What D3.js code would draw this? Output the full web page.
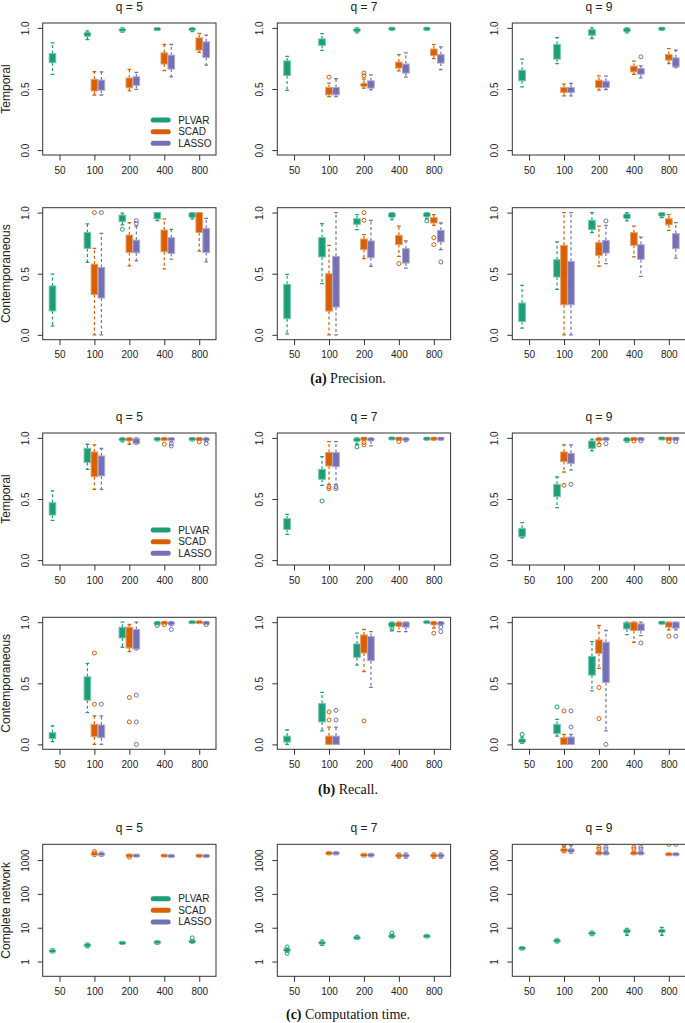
<!DOCTYPE html>
<html>
<head>
<meta charset="utf-8">
<script src="https://cdn.jsdelivr.net/npm/d3@7"></script>
<style>
  body { margin: 0; background: #fff; }
  svg text { font-family: "Liberation Sans", Arial, sans-serif; fill: #222; }
</style>
</head>
<body>
<div id="chart"></div>
<script>
// ---- data: [lower whisker, q1, median, q3, upper whisker, outliers]
const sampleSizes = ["50", "100", "200", "400", "800"];
const methods = ["PLVAR", "SCAD", "LASSO"];
const methodColors = ["#1B9E77", "#D95F02", "#7570B3"];
const qValues = [5, 7, 9];
const unitTicks = [0, 0.5, 1];
const unitTickLabels = ["0.0", "0.5", "1.0"];
const timeTicks = [1, 10, 100, 1000];
const timeTickLabels = ["1", "10", "100", "1000"];
const rowTitles = ["Temporal", "Contemporaneous", "Temporal", "Contemporaneous", "Complete network"];
const captions = [["(a)", " Precision."], ["(b)", " Recall."], ["(c)", " Computation time."]];

// precision, temporal
const precTempQ5 = {
  PLVAR: [[0.62,0.715,0.75,0.79,0.878],[0.905,0.93,0.95,0.965,0.975],[0.965,0.972,0.985,0.995,1],[0.98,0.985,0.99,0.995,1],[0.97,0.98,0.99,0.997,1]],
  SCAD:  [null,[0.451,0.484,0.52,0.579,0.641],[0.484,0.51,0.55,0.59,0.66],[0.65,0.704,0.75,0.796,0.864],[0.80,0.818,0.86,0.918,0.954]],
  LASSO: [null,[0.451,0.49,0.53,0.573,0.64],[0.497,0.53,0.565,0.60,0.636],[0.60,0.663,0.72,0.777,0.864],[0.696,0.758,0.82,0.886,0.94]]
};
const precTempQ7 = {
  PLVAR: [[0.488,0.61,0.66,0.73,0.767],[0.816,0.857,0.885,0.91,0.953],[0.96,0.967,0.98,0.995,1],[0.98,0.986,0.995,1,1],[0.98,0.986,0.995,1,1]],
  SCAD:  [null,[0.438,0.452,0.48,0.512,0.548,[0.597]],[0.507,0.521,0.535,0.548,0.58,[0.608,0.63]],[0.649,0.671,0.70,0.72,0.781],[0.748,0.773,0.80,0.827,0.863]],
  LASSO: [null,[0.438,0.452,0.48,0.512,0.584],[0.493,0.507,0.535,0.567,0.616],[0.597,0.63,0.67,0.704,0.795],[0.658,0.712,0.75,0.781,0.844]]
};
const precTempQ9 = {
  PLVAR: [[0.518,0.567,0.61,0.654,0.744],[0.708,0.744,0.80,0.864,0.921],[0.913,0.94,0.965,0.986,1],[0.96,0.967,0.985,1,1],[0.98,0.986,0.995,1,1]],
  SCAD:  [null,[0.444,0.471,0.49,0.512,0.54],[0.49,0.512,0.54,0.572,0.608],[0.619,0.64,0.665,0.687,0.728],[0.708,0.736,0.76,0.782,0.831]],
  LASSO: [null,[0.444,0.471,0.49,0.512,0.545],[0.496,0.512,0.54,0.564,0.605],[0.591,0.621,0.645,0.668,0.69,[0.763]],[0.676,0.681,0.72,0.755,0.817]]
};
// precision, contemporaneous
const precContQ5 = {
  PLVAR: [[0.071,0.195,0.30,0.40,0.496],[0.592,0.707,0.78,0.838,0.907],[0.899,0.926,0.95,0.98,0.995,[0.863]],[0.934,0.948,0.975,1,1],[0.948,0.96,0.98,1,1]],
  SCAD:  [null,[0,0.329,0.45,0.578,0.707,[1]],[0.564,0.674,0.75,0.816,0.918],[0.54,0.68,0.78,0.857,0.948],[0.685,0.838,0.95,1,1]],
  LASSO: [null,[0,0.301,0.42,0.551,0.83,[1]],[0.605,0.671,0.72,0.775,0.89,[0.912,0.934]],[0.62,0.666,0.74,0.795,0.863],[0.597,0.674,0.78,0.871,0.953]]
};
const precContQ7 = {
  PLVAR: [[0.008,0.131,0.25,0.413,0.495],[0.418,0.637,0.72,0.795,0.91],[0.861,0.904,0.93,0.95,0.984],[0.943,0.96,0.98,1,1],[0.95,0.964,0.99,1,1,[0.932]]],
  SCAD:  [null,[0,0.194,0.33,0.5,0.732],[0.623,0.697,0.74,0.784,0.82,[0.937,1]],[0.642,0.738,0.78,0.814,0.89,[0.582]],[0.896,0.915,0.94,0.959,0.984,[0.795,0.738]]],
  LASSO: [null,[0,0.227,0.42,0.642,1],[0.56,0.631,0.71,0.768,0.937],[0.546,0.587,0.65,0.705,0.768],[0.697,0.76,0.81,0.855,0.915,[0.596]]]
};
const precContQ9 = {
  PLVAR: [[0.055,0.109,0.18,0.26,0.404],[0.372,0.473,0.55,0.615,0.76],[0.836,0.861,0.90,0.937,1],[0.932,0.95,0.97,0.99,1],[0.96,0.97,0.985,1,1]],
  SCAD:  [null,[0,0.246,0.5,0.732,1],[0.563,0.65,0.70,0.754,0.89],[0.637,0.732,0.78,0.836,0.89],[0.855,0.9,0.93,0.95,0.984]],
  LASSO: [null,[0,0.246,0.42,0.601,1],[0.582,0.669,0.72,0.773,0.896,[0.932]],[0.478,0.617,0.68,0.738,0.8],[0.628,0.705,0.77,0.828,0.918]]
};
// recall, temporal
const recTempQ5 = {
  PLVAR: [[0.325,0.369,0.41,0.47,0.566],[0.743,0.798,0.86,0.915,0.948],[0.967,0.975,0.99,1,1],[0.975,0.98,0.995,1,1],[0.975,0.98,0.995,1,1]],
  SCAD:  [null,[0.579,0.683,0.80,0.885,0.943],[0.948,0.975,0.99,1,1],[0.98,0.98,0.995,1,1,[0.948]],[0.98,0.98,0.995,1,1,[0.967]]],
  LASSO: [null,[0.579,0.689,0.78,0.852,0.913],[0.95,0.953,0.975,0.995,1],[0.97,0.98,0.99,1,1,[0.953,0.934]],[0.97,0.975,0.99,1,1,[0.953]]]
};
const recTempQ7 = {
  PLVAR: [[0.21,0.251,0.29,0.339,0.374],[0.612,0.661,0.70,0.743,0.847,[0.484]],[0.948,0.97,0.985,1,1,[0.926]],[0.99,0.99,1,1,1],[0.985,0.985,1,1,1]],
  SCAD:  [null,[0.62,0.77,0.83,0.88,0.97,[0.6,0.585]],[0.984,0.984,1,1,1,[0.962,0.943]],[0.984,0.984,1,1,1,[0.97]],[0.984,0.984,1,1,1]],
  LASSO: [null,[0.62,0.765,0.83,0.88,0.97,[0.6,0.585]],[0.934,0.975,0.99,1,1],[0.97,0.975,0.99,1,1],[0.984,0.984,1,1,1]]
};
const recTempQ9 = {
  PLVAR: [[0.183,0.191,0.22,0.26,0.306],[0.429,0.519,0.57,0.62,0.68],[0.893,0.915,0.95,0.975,0.99],[0.965,0.97,0.99,1,1],[0.99,0.99,1,1,1]],
  SCAD:  [null,[0.721,0.806,0.85,0.885,0.943,[0.612]],[0.953,0.975,0.99,1,1,[0.943]],[0.98,0.98,0.995,1,1,[0.975]],[0.984,0.984,1,1,1,[0.97]]],
  LASSO: [null,[0.738,0.79,0.84,0.874,0.943,[0.62]],[0.98,0.98,0.995,1,1,[0.953]],[0.98,0.98,0.995,1,1,[0.975]],[0.984,0.984,1,1,1,[0.97]]]
};
// recall, contemporaneous
const recContQ5 = {
  PLVAR: [[0.022,0.047,0.07,0.096,0.151],[0.26,0.362,0.45,0.553,0.663],[0.795,0.871,0.92,0.959,1],[0.98,0.98,1,1,1,[0.973]],[1,1,1,1,1]],
  SCAD:  [null,[0,0.063,0.11,0.164,0.233,[0.748,0.329]],[0.759,0.789,0.88,0.959,0.981,[0.384,0.184]],[0.99,0.99,1,1,1,[0.98]],[1,1,1,1,1]],
  LASSO: [null,[0,0.055,0.10,0.159,0.233,[0.329]],[0.773,0.781,0.86,0.94,1,[0.403,0.184,0]],[0.973,0.98,1,1,1,[0.94]],[0.985,0.985,1,1,1,[0.98]]]
};
const recContQ7 = {
  PLVAR: [[0,0.019,0.04,0.068,0.118],[0.11,0.184,0.26,0.334,0.425],[0.649,0.712,0.76,0.822,0.91],[0.93,0.964,0.99,1,1,[0.951]],[1,1,1,1,1]],
  SCAD:  [null,[0,0,0.03,0.068,0.142,[0.266,0.2]],[0.595,0.748,0.82,0.896,0.94,[0.192]],[0.923,0.964,0.99,1,1],[0.951,0.978,1,1,1,[0.91]]],
  LASSO: [null,[0,0,0.03,0.068,0.142,[0.279,0.2]],[0.466,0.685,0.80,0.882,0.923],[0.923,0.959,0.99,1,1],[0.978,0.978,1,1,1,[0.959,0.923]]]
};
const recContQ9 = {
  PLVAR: [[0.008,0.014,0.03,0.047,0.06,[0.082]],[0.068,0.088,0.12,0.164,0.205,[0.307]],[0.438,0.567,0.64,0.72,0.841],[0.899,0.945,0.97,0.995,1],[0.99,0.99,1,1,1]],
  SCAD:  [null,[0,0,0.02,0.055,0.082,[0.274]],[0.622,0.745,0.80,0.855,0.973,[0.466,0.211]],[0.836,0.932,0.97,1,1],[0.937,0.959,0.98,1,1,[0.885]]],
  LASSO: [null,[0,0,0.03,0.06,0.082,[0.274,0.142]],[0.11,0.507,0.70,0.836,0.932,[0]],[0.89,0.932,0.96,0.986,1,[0.83]],[0.937,0.951,0.98,1,1,[0.885]]]
};
// computation time (seconds, log axis)
const timeQ5 = {
  PLVAR: [[1.8,1.9,2.05,2.2,2.35],[2.6,2.8,3.0,3.3,3.5],[3.3,3.45,3.55,3.7,3.8],[3.3,3.5,3.7,3.95,4.1],[3.5,3.65,3.85,4.2,4.4,[5.0]]],
  SCAD:  [null,[1300,1380,1500,1650,1750,[1800]],[1250,1300,1350,1420,1460,[1220]],[1280,1320,1350,1390,1420],[1270,1310,1340,1380,1410]],
  LASSO: [null,[1300,1380,1480,1620,1720],[1280,1310,1350,1400,1440],[1250,1290,1320,1360,1390],[1250,1290,1320,1360,1390]]
};
const timeQ7 = {
  PLVAR: [[1.9,2.0,2.2,2.4,2.5,[2.72,1.75]],[3.0,3.3,3.6,3.9,4.3],[4.5,4.8,5.1,5.4,5.9],[4.9,5.2,5.6,6.1,6.5,[7.0]],[5.0,5.3,5.6,6.0,6.3]],
  SCAD:  [null,[1450,1500,1580,1680,1750],[1250,1320,1420,1500,1580],[1150,1250,1350,1480,1600],[1150,1250,1350,1480,1600]],
  LASSO: [null,[1450,1500,1580,1680,1750],[1250,1320,1420,1500,1580],[1150,1250,1350,1480,1600],[1150,1250,1350,1480,1600]]
};
const timeQ9 = {
  PLVAR: [[2.2,2.3,2.5,2.65,2.75],[3.6,3.8,4.2,4.5,4.7],[5.8,6.2,6.9,7.5,7.9],[6.0,7.0,8.1,9.0,9.6],[6.0,7.2,8.1,9.0,10.2]],
  SCAD:  [null,[1650,1750,2000,2200,2400,[2800,3100]],[1450,1500,1580,1700,1800,[2100,2400]],[1450,1500,1580,1700,1800,[2100,2400]],[1400,1440,1480,1520,1560,[2900]]],
  LASSO: [null,[1600,1700,1900,2150,2700],[1450,1500,1580,1700,1800,[2100,2400]],[1450,1500,1580,1700,1800,[2100,2400]],[1400,1440,1480,1520,1560,[2900]]]
};

const panelRows = [
  [precTempQ5, precTempQ7, precTempQ9],
  [precContQ5, precContQ7, precContQ9],
  [recTempQ5, recTempQ7, recTempQ9],
  [recContQ5, recContQ7, recContQ9],
  [timeQ5, timeQ7, timeQ9]
];

// ---- layout
const W = 685, H = 1023;
const colLefts = [42.7, 277.3, 512.3];
const frameW = 173.3;
const rowTops = [23, 207.7, 433, 617.3, 844.3];
const frameH = 132;
const captionY = {1: 382.5, 3: 793.5, 4: 1018.5};
const captionX = 348;
const offsets = [-0.2, 0, 0.2];
const boxW = 0.19;

const svg = d3.select("#chart").append("svg")
  .attr("width", W).attr("height", H);

function drawBox(g, x, y, cx, st, color) {
  const [lo, q1, med, q3, hi, out = []] = st;
  const light = d3.interpolateRgb(color, "#fff")(0.4);
  const half = (x(boxW) - x(0)) / 2;
  const cap = half * 0.55;
  const yTop = y(q3), yBot = y(q1);
  let h = yBot - yTop;
  let top = yTop;
  if (h < 3) { top = (yTop + yBot) / 2 - 1.5; h = 3; }

  // dashed whiskers
  [[q3, hi], [q1, lo]].forEach(([a, b]) => {
    if (a === b) return;
    g.append("line")
      .attr("x1", cx).attr("x2", cx)
      .attr("y1", y(a)).attr("y2", y(b))
      .attr("stroke", color).attr("stroke-width", 1.2)
      .attr("stroke-dasharray", "3,2.5");
  });
  // whisker caps
  [hi, lo].forEach(v => {
    g.append("line")
      .attr("x1", cx - cap).attr("x2", cx + cap)
      .attr("y1", y(v)).attr("y2", y(v))
      .attr("stroke", color).attr("stroke-width", 1.3);
  });
  // box
  g.append("rect")
    .attr("x", cx - half).attr("y", top)
    .attr("width", half * 2).attr("height", h)
    .attr("rx", h < 5 ? 1.5 : 0)
    .attr("fill", color)
    .attr("stroke", light).attr("stroke-width", 1);
  // median
  g.append("line")
    .attr("x1", cx - half + 0.8).attr("x2", cx + half - 0.8)
    .attr("y1", y(med)).attr("y2", y(med))
    .attr("stroke", color).attr("stroke-width", 1.5);
  // outliers
  g.selectAll(null).data(out).enter().append("circle")
    .attr("cx", cx).attr("cy", d => y(d)).attr("r", 2)
    .attr("fill", "none").attr("stroke", color).attr("stroke-width", 1);
}

function drawLegend(g, left, cy) {
  methods.forEach((m, i) => {
    const yy = cy + (i - 1) * 11.6;
    g.append("line")
      .attr("x1", left + 2.5).attr("x2", left + 17.5)
      .attr("y1", yy).attr("y2", yy)
      .attr("stroke", methodColors[i]).attr("stroke-width", 5)
      .attr("stroke-linecap", "round");
    g.append("text")
      .attr("x", left + 27.5).attr("y", yy).attr("dy", "0.35em")
      .attr("font-size", 10).text(m);
  });
}

panelRows.forEach((row, r) => {
  const isTime = r === 4;
  const top = rowTops[r], bottom = top + frameH;
  const y = isTime
    ? d3.scaleLog().domain([Math.pow(10, -0.436), Math.pow(10, 3.466)]).range([bottom, top])
    : d3.scaleLinear().domain([-0.04, 1.04]).range([bottom, top]);

  row.forEach((panel, c) => {
    const left = colLefts[c];
    const x = d3.scaleLinear().domain([0.52, 5.48]).range([left, left + frameW]);
    const g = svg.append("g");

    const clipId = `clip-${r}-${c}`;
    g.append("clipPath").attr("id", clipId)
      .append("rect").attr("x", left).attr("y", top).attr("width", frameW).attr("height", frameH);

    const marks = g.append("g").attr("clip-path", `url(#${clipId})`);
    methods.forEach((m, mi) => {
      panel[m].forEach((st, gi) => {
        if (!st) return;
        drawBox(marks, x, y, x(gi + 1 + offsets[mi]), st, methodColors[mi]);
      });
    });

    // frame
    g.append("rect")
      .attr("x", left).attr("y", top).attr("width", frameW).attr("height", frameH)
      .attr("fill", "none").attr("stroke", "#333").attr("stroke-width", 1);

    // x axis
    const xAxis = g.append("g")
      .attr("transform", `translate(0,${bottom})`)
      .call(d3.axisBottom(x).tickValues([1, 2, 3, 4, 5])
        .tickFormat((d, i) => sampleSizes[i]).tickSize(5.5).tickPadding(6));
    xAxis.select(".domain").remove();
    xAxis.selectAll("line").attr("stroke", "#333");
    xAxis.selectAll("text").attr("font-size", 10).attr("fill", "#222")
      .attr("font-family", "Liberation Sans, Arial, sans-serif");

    // y axis
    const yAxis = g.append("g")
      .attr("transform", `translate(${left},0)`)
      .call(d3.axisLeft(y)
        .tickValues(isTime ? timeTicks : unitTicks)
        .tickFormat((d, i) => isTime ? timeTickLabels[i] : unitTickLabels[i])
        .tickSize(5));
    yAxis.select(".domain").remove();
    yAxis.selectAll("line").attr("stroke", "#333");
    yAxis.selectAll("text")
      .attr("transform", "rotate(-90)")
      .attr("text-anchor", "middle")
      .attr("x", 0).attr("y", -14).attr("dy", 0)
      .attr("font-size", 10).attr("fill", "#222")
      .attr("font-family", "Liberation Sans, Arial, sans-serif");

    // panel title on first row of each block
    if (r === 0 || r === 2 || r === 4) {
      g.append("text")
        .attr("x", left + frameW / 2).attr("y", top - 12.5)
        .attr("text-anchor", "middle").attr("font-size", 12)
        .text(`q = ${qValues[c]}`);
    }

    // legend in first column
    if (c === 0 && (r === 0 || r === 2)) drawLegend(g, left + 108, bottom - 23.3);
    if (c === 0 && r === 4) drawLegend(g, left + 108, (top + bottom) / 2);
  });

  // row title
  svg.append("text")
    .attr("transform", `translate(10,${top + frameH / 2}) rotate(-90)`)
    .attr("text-anchor", "middle").attr("font-size", 12)
    .text(rowTitles[r]);

  // caption under block
  if (captionY[r] !== undefined) {
    const cap = captions[r === 1 ? 0 : r === 3 ? 1 : 2];
    const t = svg.append("text")
      .attr("x", captionX).attr("y", captionY[r])
      .attr("text-anchor", "middle")
      .style("font-family", "'Liberation Serif', 'Times New Roman', serif")
      .style("font-size", "14px")
      .style("fill", "#111");
    t.append("tspan").attr("font-weight", "bold").text(cap[0]);
    t.append("tspan").text(cap[1]);
  }
});
</script>
</body>
</html>
